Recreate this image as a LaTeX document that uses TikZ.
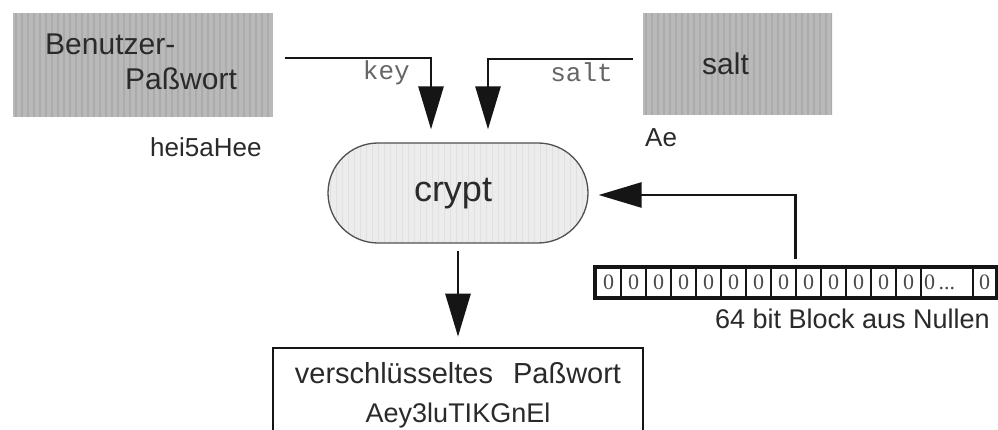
\documentclass[tikz,border=0pt]{standalone}
\usepackage{fontspec}
\setmainfont{Liberation Sans}
\newfontfamily\cmono{Liberation Mono}
\newfontfamily\cserif{Liberation Serif}
\usetikzlibrary{arrows.meta,calc,shapes.misc}
\definecolor{boxgray}{HTML}{B9B9B9}
\definecolor{stripegray}{HTML}{ABABAB}
\definecolor{cryptfill}{HTML}{ECECEC}
\definecolor{cryptstripe}{HTML}{E0E0E0}
\definecolor{ink}{HTML}{151515}
\definecolor{txt}{HTML}{2A2A2A}
\definecolor{labelgray}{HTML}{666666}
\tikzset{
  graybox/.style={draw=none, fill=boxgray, inner sep=0,
    path picture={\foreach \i in {3,9,...,260}{\draw[stripegray,line width=1.1pt]
      ([xshift=\i pt]path picture bounding box.south west) --
      ([xshift=\i pt]path picture bounding box.north west);}}},
  cryptshape/.style={rounded rectangle, draw=ink!75, line width=1.3pt, fill=cryptfill,
    minimum width=260pt, minimum height=100pt, inner sep=0,
    path picture={\foreach \i in {2,8,...,262}{\draw[cryptstripe,line width=1pt]
      ([xshift=\i pt]path picture bounding box.south west) --
      ([xshift=\i pt]path picture bounding box.north west);}}},
  lbl/.style={inner sep=0, anchor=base west, text=txt},
  codelbl/.style={inner sep=0, anchor=base east, text=labelgray,
    font=\cmono\fontsize{26}{26}\selectfont},
  arr/.style={draw=ink, line width=2.7pt, line join=miter,
    -{Triangle[length=43pt,width=25pt]}},
  cell/.style={draw=ink, line width=2.8pt, minimum height=29pt, inner sep=0,
    text=txt!85, font=\cserif\fontsize{22}{22}\selectfont},
  outbox/.style={draw=ink, line width=2.6pt, fill=white, inner sep=0,
    minimum width=370pt, minimum height=98pt}
}
\begin{document}
\begin{tikzpicture}[x=1pt,y=-1pt]
\useasboundingbox (0,0) rectangle (998,430);
\clip (0,0) rectangle (998,430);
\fill[white] (0,0) rectangle (998,430);

% input boxes
\node[graybox, minimum width=260pt, minimum height=104pt] (pw) at (143,65) {};
\node[lbl, font=\fontsize{30}{30}\selectfont] (pw1) at (45,55) {Benutzer-};
\node[lbl, font=\fontsize{30}{30}\selectfont] (pw2) at (125,90) {Paßwort};
\node[lbl, font=\fontsize{26}{26}\selectfont] (pwval) at (150,157) {hei5aHee};

\node[graybox, minimum width=189pt, minimum height=102pt] (sb) at (737.5,64) {};
\node[lbl, font=\fontsize{30}{30}\selectfont] (sbt) at (702,75) {salt};
\node[lbl, font=\fontsize{26}{26}\selectfont] (sval) at (645,147) {Ae};

% crypt
\node[cryptshape] (crypt) at (458,193) {};
\node[inner sep=0, anchor=base, text=txt, font=\fontsize{36}{36}\selectfont] (cryptt) at (453,202) {crypt};

% labels
\node[codelbl] (keyl) at (410,80) {key};
\node[codelbl] (saltl) at (613,82) {salt};

% zero block
\foreach \k in {1,...,13}{
  \node[cell, minimum width=25pt] (c\k) at ({596+12.5+(\k-1)*25},282.5) {0};
}
\node[cell, minimum width=52pt, text width=46pt, align=left] (c14) at (947,282.5) {0\,...};
\node[cell, minimum width=23pt] (c15) at (984.5,282.5) {0};
\draw[ink, line width=3.2pt] (c1.north west) rectangle (c15.south east);
\node[inner sep=0, anchor=base east, text=txt, font=\fontsize{27}{27}\selectfont] (blkl) at (990,328) {64 bit Block aus Nullen};

% output box
\node[outbox] (out) at (458,397) {};
\node[inner sep=0, anchor=base, text=txt, font=\fontsize{29}{29}\selectfont] (out1) at (458,383) {verschlüsseltes\hspace{20pt}Paßwort};
\node[inner sep=0, anchor=base, text=txt, font=\fontsize{27}{27}\selectfont] (out2) at (458,422) {Aey3luTIKGnEl};

% connectors
\coordinate (keystart) at ($(pw.east)+(12,-7)$);
\coordinate (saltstart) at ($(sb.west)+(-10,-5)$);
\coordinate (blk) at ($(c9.north west)+(1,-8)$);
\draw[arr] (keystart) -| ($(crypt.north)+(-27,-13)$);
\draw[arr] (saltstart) -| ($(crypt.north)+(30,-13)$);
\draw[arr] (blk) |- ($(crypt.east)+(10,2)$);
\draw[arr] ($(crypt.south)+(0,7)$) -- ($(out.north)+(0,-10)$);
\end{tikzpicture}
\end{document}
